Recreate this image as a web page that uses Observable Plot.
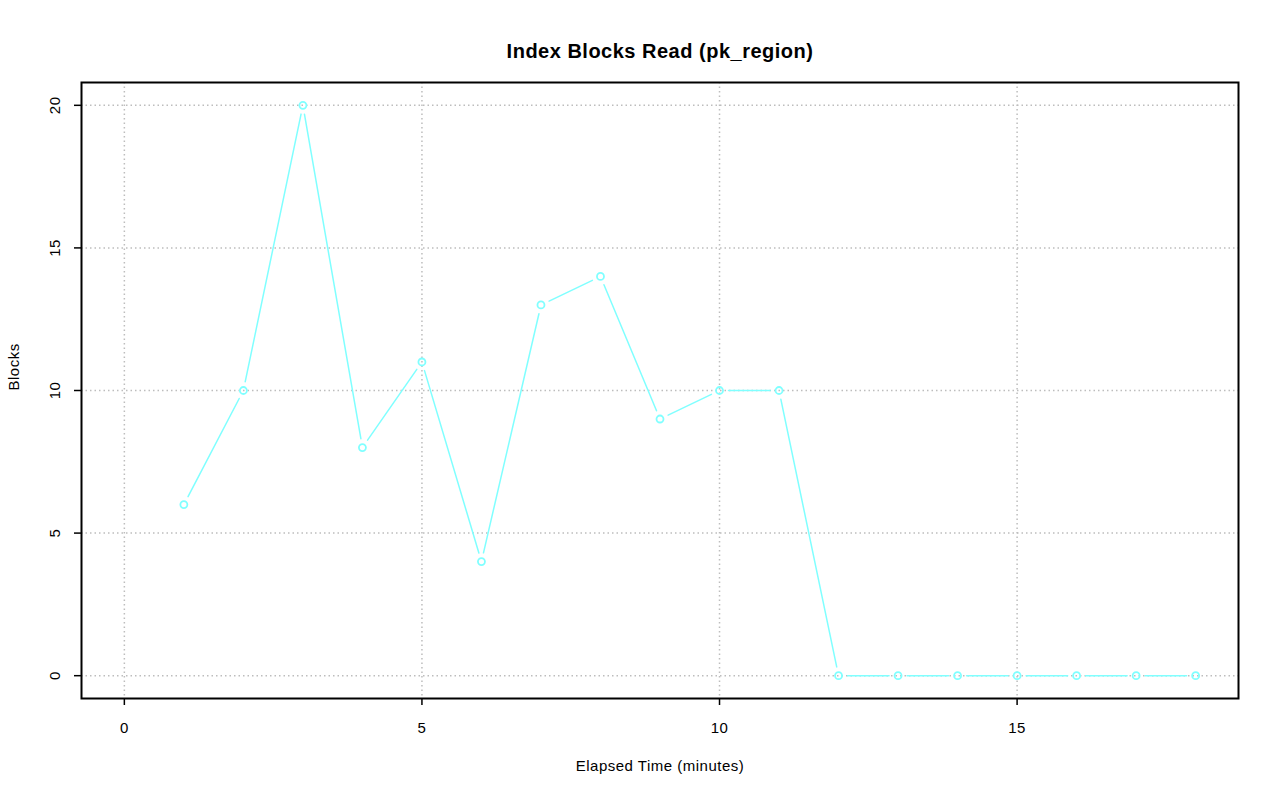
<!DOCTYPE html>
<html>
<head>
<meta charset="utf-8">
<script src="https://cdn.jsdelivr.net/npm/d3@7"></script>
<script src="https://cdn.jsdelivr.net/npm/@observablehq/plot@0.6"></script>
<style>
  html, body { margin: 0; padding: 0; background: #fff; }
  #chart svg { display: block; }
  #chart svg text { letter-spacing: 0.5px; }
</style>
</head>
<body>
<div id="chart"></div>
<script>
const minutes = [1,2,3,4,5,6,7,8,9,10,11,12,13,14,15,16,17,18];
const blocks  = [6,10,20,8,11,4,13,14,9,10,10,0,0,0,0,0,0,0];
const xTicks = [0,5,10,15];
const yTicks = [0,5,10,15,20];
const title = "Index Blocks Read (pk_region)";
const xLabel = "Elapsed Time (minutes)";
const yLabel = "Blocks";

const points = minutes.map((m, i) => ({x: m, y: blocks[i]}));
const segments = points.slice(1).map((p, i) => ({x1: points[i].x, y1: points[i].y, x2: p.x, y2: p.y}));
const lineColor = "#80ffff";
const font = "Liberation Sans, Arial, Helvetica, sans-serif";

const chart = Plot.plot({
  width: 1280,
  height: 801,
  marginLeft: 81,
  marginRight: 42,
  marginTop: 82,
  marginBottom: 103,
  style: {fontFamily: font, fontSize: "15px", background: "#fff", color: "#000"},
  x: {domain: [-0.72, 18.72]},
  y: {domain: [-0.8, 20.8]},
  marks: [
    Plot.gridX(xTicks, {stroke: "#bdbdbd", strokeOpacity: 1, strokeDasharray: "1.5,3", strokeWidth: 1.5}),
    Plot.gridY(yTicks, {stroke: "#bdbdbd", strokeOpacity: 1, strokeDasharray: "1.5,3", strokeWidth: 1.5}),
    Plot.arrow(segments, {x1: "x1", y1: "y1", x2: "x2", y2: "y2", insetStart: 9, insetEnd: 9, headLength: 0, stroke: lineColor, strokeWidth: 1.5}),
    Plot.dot(points, {x: "x", y: "y", r: 3.5, stroke: lineColor, strokeWidth: 1.8, fill: "none"}),
    Plot.frame({stroke: "#000", strokeWidth: 2}),
    Plot.axisX(xTicks, {tickSize: 7, tickPadding: 17, fontSize: 15, stroke: "#000", strokeWidth: 1.5, label: null}),
    Plot.axisY(yTicks, {tickSize: 7, tickPadding: 15, fontSize: 15, tickRotate: -90, stroke: "#000", strokeWidth: 1.5, label: null}),
    Plot.text([xLabel], {frameAnchor: "bottom", dy: 72, fontSize: 15, text: d => d}),
    Plot.text([yLabel], {frameAnchor: "left", dx: -67, rotate: -90, fontSize: 15, text: d => d}),
    Plot.text([title], {frameAnchor: "top", dy: -39, fontSize: 20, fontWeight: "bold", text: d => d})
  ]
});
document.getElementById("chart").appendChild(chart);
</script>
</body>
</html>
